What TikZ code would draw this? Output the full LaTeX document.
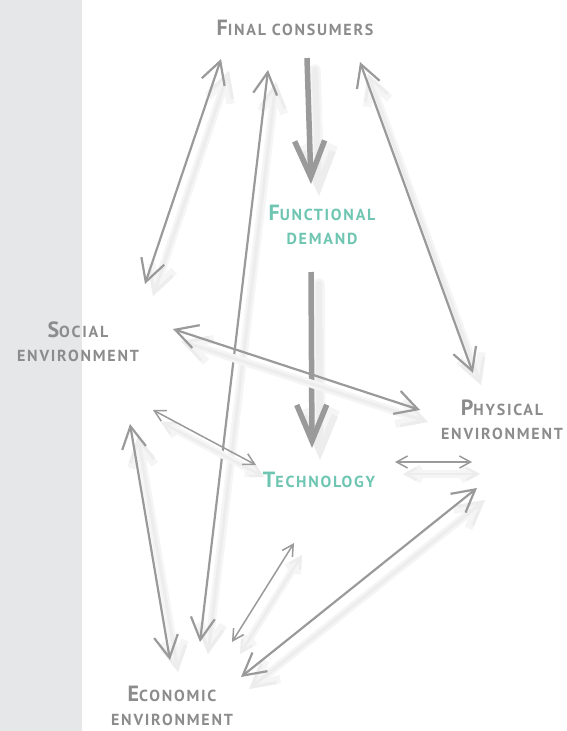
\documentclass[tikz,border=0pt]{standalone}
\usepackage{fontspec}
\setmainfont{PT Sans}
\usetikzlibrary{arrows.meta}
\definecolor{band}{HTML}{E6E7E9}
\definecolor{pencil}{HTML}{9A9A9A}
\definecolor{labelgray}{HTML}{8C8C8C}
\definecolor{teal}{HTML}{6EC5B2}
\newcommand\hsc[2]{{\fontsize{22}{22}\selectfont #1}{\fontsize{16}{16}\selectfont\addfontfeatures{LetterSpace=11}#2}}
\newcommand\lsc[1]{{\fontsize{16}{16}\selectfont\addfontfeatures{LetterSpace=11}#1}}
\tikzset{
  lbl/.style={text=labelgray, align=center, inner sep=0pt, font=\bfseries},
  tlbl/.style={text=teal, align=center, inner sep=0pt, font=\bfseries},
  bighead/.style={arrows={Straight Barb[length=22pt,width=24pt]-Straight Barb[length=22pt,width=24pt]}},
  smallhead/.style={arrows={Straight Barb[length=11pt,width=12pt]-Straight Barb[length=11pt,width=12pt]}},
  fathead/.style={arrows={-Straight Barb[length=36pt,width=30pt]}},
  pen/.style={draw=pencil, line width=2.2pt, line cap=round, line join=round},
  thinpen/.style={draw=pencil, line width=1.5pt, line cap=round, line join=round},
  fatpen/.style={draw=pencil, line width=5.5pt, line join=round},
  shadowA/.style={draw=black!4, line cap=round, line join=round},
  shadowB/.style={draw=black!7, line cap=round, line join=round},
}
% #1 style of head, #2 pen, #3 width of shadow, #4 from, #5 to
\newcommand\sketcharrow[5]{%
  \draw[shadowA, #1, line width=#3pt+6pt] ([shift={(8,12)}]#4) -- ([shift={(8,12)}]#5);
  \draw[shadowB, #1, line width=#3pt+1pt] ([shift={(8,12)}]#4) -- ([shift={(8,12)}]#5);
  \draw[#2, #1] (#4) -- (#5);
}
\begin{document}
\begin{tikzpicture}[x=1pt,y=-1pt]
\useasboundingbox (0,0) rectangle (566,731);
\fill[band] (0,0) rectangle (82,731);

% labels
\node[lbl] (fc) at (295,28) {\hsc{F}{INAL CONSUMERS}};
\node[tlbl] (fd) at (322,225) {\hsc{F}{UNCTIONAL}\\[12pt]\lsc{DEMAND}};
\node[tlbl] (tech) at (319,480) {\hsc{T}{ECHNOLOGY}};
\node[lbl] (soc) at (78,342) {\hsc{S}{OCIAL}\\[12pt]\lsc{ENVIRONMENT}};
\node[lbl] (phys) at (502,420) {\hsc{P}{HYSICAL}\\[12pt]\lsc{ENVIRONMENT}};
\node[lbl] (econ) at (172,706) {\hsc{E}{CONOMIC}\\[12pt]\lsc{ENVIRONMENT}};

% arrow end points
\coordinate (fcA) at (221,59);   \coordinate (socA) at (145,284);
\coordinate (fcB) at (268,70);   \coordinate (ecoB) at (200,642);
\coordinate (fcC) at (307,58);   \coordinate (fdC) at (311,184);
\coordinate (fdD) at (311,272);  \coordinate (teD) at (312,448);
\coordinate (fcE) at (360,62);   \coordinate (phE) at (473,373);
\coordinate (socF) at (173,329); \coordinate (phF) at (420,410);
\coordinate (socG) at (153,410); \coordinate (teG) at (256,465);
\coordinate (socH) at (130,424); \coordinate (ecoH) at (170,660);
\coordinate (teI) at (395,462);  \coordinate (phI) at (472,462);
\coordinate (teJ) at (294,543);  \coordinate (ecoJ) at (232,642);
\coordinate (phK) at (477,488);  \coordinate (ecoK) at (241,677);

% connectors
\sketcharrow{bighead}{pen}{2.2}{fcA}{socA}
\sketcharrow{bighead}{pen}{2.2}{fcB}{ecoB}
\sketcharrow{fathead}{fatpen}{5.5}{fcC}{fdC}
\sketcharrow{fathead}{fatpen}{5.5}{fdD}{teD}
\sketcharrow{bighead}{pen}{2.2}{fcE}{phE}
\sketcharrow{bighead}{pen}{2.2}{socF}{phF}
\sketcharrow{smallhead}{thinpen}{1.5}{socG}{teG}
\sketcharrow{bighead}{pen}{2.2}{socH}{ecoH}
\sketcharrow{smallhead}{thinpen}{1.5}{teI}{phI}
\sketcharrow{smallhead}{thinpen}{1.5}{teJ}{ecoJ}
\sketcharrow{bighead}{pen}{2.2}{phK}{ecoK}
\end{tikzpicture}
\end{document}
